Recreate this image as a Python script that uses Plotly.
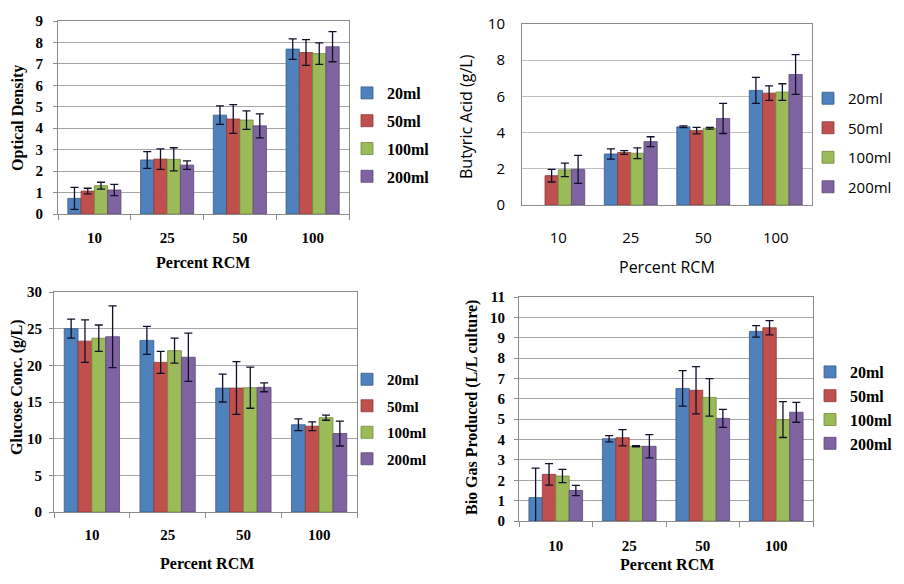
import plotly.graph_objects as go

categories = ["10", "25", "50", "100"]
series_names = ["20ml", "50ml", "100ml", "200ml"]
colors = ["#4F81BD", "#C0504D", "#9BBB59", "#8064A2"]
edge_colors = ["#385D8A", "#8C3836", "#71893F", "#5C4776"]

# Optical Density
od_20 = [0.73, 2.52, 4.61, 7.69]
od_50 = [1.07, 2.56, 4.43, 7.53]
od_100 = [1.32, 2.55, 4.38, 7.48]
od_200 = [1.12, 2.28, 4.11, 7.80]
od_err_20 = [0.51, 0.39, 0.43, 0.48]
od_err_50 = [0.13, 0.48, 0.67, 0.60]
od_err_100 = [0.16, 0.54, 0.43, 0.50]
od_err_200 = [0.26, 0.20, 0.56, 0.70]

# Butyric Acid (g/L)  (no 20ml bar at 10 % RCM)
ba_20 = [None, 2.82, 4.32, 6.33]
ba_50 = [1.62, 2.90, 4.11, 6.18]
ba_100 = [1.94, 2.86, 4.24, 6.24]
ba_200 = [1.97, 3.50, 4.78, 7.21]
ba_err_20 = [None, 0.28, 0.05, 0.72]
ba_err_50 = [0.35, 0.10, 0.18, 0.40]
ba_err_100 = [0.37, 0.30, 0.05, 0.46]
ba_err_200 = [0.77, 0.27, 0.83, 1.10]

# Glucose Conc. (g/L)
gl_20 = [25.0, 23.4, 16.9, 11.9]
gl_50 = [23.3, 20.4, 16.9, 11.7]
gl_100 = [23.7, 22.0, 16.95, 12.86]
gl_200 = [23.9, 21.1, 17.0, 10.7]
gl_err_20 = [1.3, 1.9, 1.9, 0.8]
gl_err_50 = [2.9, 1.5, 3.6, 0.6]
gl_err_100 = [1.8, 1.7, 2.8, 0.35]
gl_err_200 = [4.2, 3.3, 0.6, 1.7]

# Bio Gas Produced (L/L culture)
bg_20 = [1.15, 4.04, 6.51, 9.31]
bg_50 = [2.29, 4.09, 6.42, 9.49]
bg_100 = [2.21, 3.67, 6.07, 4.98]
bg_200 = [1.50, 3.67, 5.04, 5.34]
bg_err_20 = [1.45, 0.15, 0.87, 0.28]
bg_err_50 = [0.53, 0.40, 1.16, 0.35]
bg_err_100 = [0.33, 0.03, 0.92, 0.88]
bg_err_200 = [0.25, 0.57, 0.44, 0.49]

W, H = 904, 584
OFF = 8  # page body margin offset of the figure inside the browser window
SERIF = "Liberation Serif"
SANS = "Open Sans"

def fx(px):
    return (px - OFF) / W

def fy(py):
    return 1 - (py - OFF) / H

panels = [
    dict(vals=[od_20, od_50, od_100, od_200], errs=[od_err_20, od_err_50, od_err_100, od_err_200],
         xdom=(58, 349), ydom=(21, 214), yrange=[0, 9], dtick=1, font=SERIF, bold=True,
         ytitle="Optical Density", ytpos=(18, 118), xtpos=(203, 262), tfs=16, tickfs=15,
         legfs=16, legpos=(347, 76), leggap=4, grid="#A6A6A6", yticks=True, xticks=True,
         xstand=10, ystand=7),
    dict(vals=[ba_20, ba_50, ba_100, ba_200], errs=[ba_err_20, ba_err_50, ba_err_100, ba_err_200],
         xdom=(522, 812), ydom=(24, 205), yrange=[0, 10], dtick=2, font=SANS, bold=False,
         ytitle="Butyric Acid (g/L)", ytpos=(466, 116), xtpos=(667, 267), tfs=16, tickfs=15,
         legfs=15, legpos=(808, 82), leggap=7, grid="#BFBFBF", yticks=False, xticks=False,
         xstand=19, ystand=13),
    dict(vals=[gl_20, gl_50, gl_100, gl_200], errs=[gl_err_20, gl_err_50, gl_err_100, gl_err_200],
         xdom=(54, 357), ydom=(292, 512), yrange=[0, 30], dtick=5, font=SERIF, bold=True,
         ytitle="Glucose Conc. (g/L)", ytpos=(17, 387), xtpos=(207, 563), tfs=16, tickfs=15,
         legfs=15, legpos=(347, 363), leggap=4, grid="#A6A6A6", yticks=True, xticks=True,
         xstand=9, ystand=4),
    dict(vals=[bg_20, bg_50, bg_100, bg_200], errs=[bg_err_20, bg_err_50, bg_err_100, bg_err_200],
         xdom=(519, 813), ydom=(297, 521), yrange=[0, 11], dtick=1, font=SERIF, bold=True,
         ytitle="Bio Gas Produced (L/L culture)", ytpos=(472, 408), xtpos=(667, 564), tfs=16, tickfs=15,
         legfs=16, legpos=(810, 355), leggap=0, grid="#A6A6A6", yticks=True, xticks=True,
         xstand=11, ystand=6),
]

fig = go.Figure()
annotations = []
layout = {}

def wrap(t, bold):
    return f"<b>{t}</b>" if bold else t

for p_i, p in enumerate(panels):
    n = p_i + 1
    xa = "x" if n == 1 else f"x{n}"
    ya = "y" if n == 1 else f"y{n}"
    leg = "legend" if n == 1 else f"legend{n}"
    for s_i, name in enumerate(series_names):
        fig.add_trace(go.Bar(
            x=categories, y=p["vals"][s_i], name=wrap(name, p["bold"]),
            xaxis=xa, yaxis=ya, legend=leg, legendgroup=f"p{n}_{name}",
            marker=dict(color=colors[s_i], line=dict(color=edge_colors[s_i], width=0.8)),
            error_y=dict(type="data", array=p["errs"][s_i], visible=True,
                         color="#101028", thickness=1.3, width=4),
        ))
    axis_font = dict(family=p["font"], size=p["tickfs"], color="#000000")
    layout["xaxis" if n == 1 else f"xaxis{n}"] = dict(
        domain=[fx(p["xdom"][0]), fx(p["xdom"][1])], anchor=ya, automargin=False,
        type="category", tickson="boundaries", ticks="outside" if p["xticks"] else "",
        ticklen=5, tickcolor="#8C8C8C", showline=True, linecolor="#8C8C8C", mirror=True,
        showgrid=False, tickfont=axis_font, ticklabelstandoff=p["xstand"],
        tickvals=categories, ticktext=[wrap(c, p["bold"]) for c in categories],
    )
    ytv = [p["dtick"] * k for k in range(int(p["yrange"][1] / p["dtick"]) + 1)]
    layout["yaxis" if n == 1 else f"yaxis{n}"] = dict(
        domain=[fy(p["ydom"][1]), fy(p["ydom"][0])], anchor=xa, automargin=False,
        range=p["yrange"], tickvals=ytv, ticktext=[wrap(str(v), p["bold"]) for v in ytv],
        ticks="outside" if p["yticks"] else "", ticklen=4, tickcolor="#8C8C8C",
        showline=True, linecolor="#8C8C8C", mirror=True, showgrid=True,
        gridcolor=p["grid"], gridwidth=1, zeroline=False, tickfont=axis_font,
        ticklabelstandoff=p["ystand"],
    )
    layout[leg] = dict(
        x=fx(p["legpos"][0]), y=fy(p["legpos"][1]), xanchor="left", yanchor="top",
        bgcolor="rgba(0,0,0,0)", traceorder="grouped", tracegroupgap=p["leggap"],
        font=dict(family=p["font"], size=p["legfs"], color="#000000"),
    )
    tfont = dict(family=p["font"], size=p["tfs"], color="#000000")
    annotations.append(dict(
        text=wrap(p["ytitle"], p["bold"]), x=fx(p["ytpos"][0]), y=fy(p["ytpos"][1]),
        xref="paper", yref="paper", xanchor="center", yanchor="middle", showarrow=False,
        textangle=-90, font=tfont))
    annotations.append(dict(
        text=wrap("Percent RCM", p["bold"]), x=fx(p["xtpos"][0]), y=fy(p["xtpos"][1]),
        xref="paper", yref="paper", xanchor="center", yanchor="middle", showarrow=False,
        font=tfont))

fig.update_layout(
    width=W, height=H, margin=dict(l=0, r=0, t=0, b=0, autoexpand=False),
    paper_bgcolor="#FFFFFF", plot_bgcolor="#FFFFFF",
    barmode="group", bargap=0.27, bargroupgap=0.0,
    annotations=annotations, **layout,
)

fig.write_html("out.html")
